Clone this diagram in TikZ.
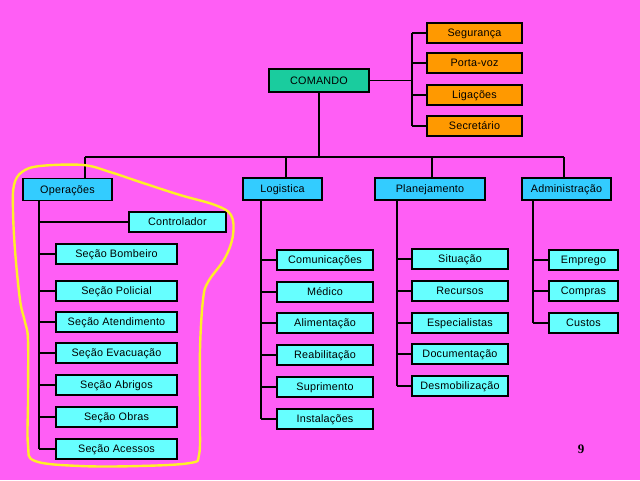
\documentclass[tikz,border=0pt]{standalone}
\usepackage{fontspec}
\setmainfont{Liberation Sans}[LetterSpace=2]
\newfontfamily\numfont{Liberation Serif}
\definecolor{bgpink}{RGB}{255,94,245}
\definecolor{cmdgreen}{RGB}{26,204,158}
\definecolor{headblue}{RGB}{51,204,255}
\definecolor{childcyan}{RGB}{102,255,255}
\definecolor{orangebox}{RGB}{255,153,0}
\definecolor{loopyellow}{RGB}{255,240,40}
\begin{document}
\begin{tikzpicture}[x=1pt,y=-1pt,
  box/.style={draw=black,line width=1.6pt,inner sep=0pt,minimum height=20pt,
    text height=8pt,text depth=1pt,
    font=\fontsize{10.8}{12}\selectfont,text=black},
  cmdbox/.style={box,fill=cmdgreen,minimum width=100pt,minimum height=23pt},
  orgbox/.style={box,fill=orangebox,minimum width=95pt},
  headbox/.style={box,fill=headblue,minimum height=22pt},
  childbox/.style={box,fill=childcyan},
  conn/.style={draw=black,line width=1.6pt}]
\fill[bgpink] (0,0) rectangle (640,480);
\useasboundingbox (0,0) rectangle (640,480);

% command
\node[cmdbox] (cmd) at (319,80.5) {COMANDO};
\node[orgbox] (seg) at (474.5,33) {Segurança};
\node[orgbox] (por) at (474.5,63) {Porta-voz};
\node[orgbox] (lig) at (474.5,95) {Ligações};
\node[orgbox] (sec) at (474.5,126) {Secretário};

% headers
\node[headbox,minimum width=89pt] (ops) at (67.5,189.5) {Operações};
\node[headbox,minimum width=79pt] (log) at (282.5,189) {Logistica};
\node[headbox,minimum width=110pt] (pla) at (430,189) {Planejamento};
\node[headbox,minimum width=89pt] (adm) at (566.5,189) {Administração};

% operations children
\node[childbox,minimum width=97pt] (ctl) at (177.5,222) {Controlador};
\node[childbox,minimum width=121pt] (o1) at (116.5,254) {Seção Bombeiro};
\node[childbox,minimum width=121pt] (o2) at (116.5,291) {Seção Policial};
\node[childbox,minimum width=121pt] (o3) at (116.5,322) {Seção Atendimento};
\node[childbox,minimum width=121pt] (o4) at (116.5,353) {Seção Evacuação};
\node[childbox,minimum width=121pt] (o5) at (116.5,385) {Seção Abrigos};
\node[childbox,minimum width=121pt] (o6) at (116.5,417) {Seção Obras};
\node[childbox,minimum width=121pt] (o7) at (116.5,449) {Seção Acessos};

% logistics children
\node[childbox,minimum width=96pt] (l1) at (325,260) {Comunicações};
\node[childbox,minimum width=96pt] (l2) at (325,292) {Médico};
\node[childbox,minimum width=96pt] (l3) at (325,323) {Alimentação};
\node[childbox,minimum width=96pt] (l4) at (325,355) {Reabilitação};
\node[childbox,minimum width=96pt] (l5) at (325,387) {Suprimento};
\node[childbox,minimum width=96pt] (l6) at (325,419) {Instalações};

% planning children
\node[childbox,minimum width=96pt] (p1) at (460,259) {Situação};
\node[childbox,minimum width=96pt] (p2) at (460,291) {Recursos};
\node[childbox,minimum width=96pt] (p3) at (460,323) {Especialistas};
\node[childbox,minimum width=96pt] (p4) at (460,354) {Documentação};
\node[childbox,minimum width=96pt] (p5) at (460,386) {Desmobilização};

% administration children
\node[childbox,minimum width=69pt] (a1) at (583.5,260) {Emprego};
\node[childbox,minimum width=69pt] (a2) at (583.5,291) {Compras};
\node[childbox,minimum width=69pt] (a3) at (583.5,323) {Custos};

% spine coordinates
\coordinate (rsp) at (412,0);
\coordinate (bar) at (0,157);
\coordinate (tops) at (85,157);
\coordinate (tlog) at (286,157);
\coordinate (tpla) at (432,157);
\coordinate (tadm) at (564,157);
\coordinate (osp) at (39,0);
\coordinate (lsp) at (261,0);
\coordinate (psp) at (397,0);
\coordinate (asp) at (533,0);

% command connectors
\draw[conn] (cmd.east) -- (cmd.east -| rsp);
\draw[conn] (seg.west -| rsp) -- (sec.west -| rsp);
\foreach \n in {seg,por,lig,sec} \draw[conn] (\n.west -| rsp) -- (\n.west);
\draw[conn] (cmd.south) -- (cmd.south |- bar);
\draw[conn] (tops) -- (tadm);
\draw[conn] (tops) -- (tops |- ops.north);
\draw[conn] (tlog) -- (tlog |- log.north);
\draw[conn] (tpla) -- (tpla |- pla.north);
\draw[conn] (tadm) -- (tadm |- adm.north);

% operations
\draw[conn] (ops.south -| osp) -- (o7.west -| osp);
\foreach \n in {ctl,o1,o2,o3,o4,o5,o6,o7} \draw[conn] (\n.west -| osp) -- (\n.west);
% logistics
\draw[conn] (log.south -| lsp) -- (l6.west -| lsp);
\foreach \n in {l1,l2,l3,l4,l5,l6} \draw[conn] (\n.west -| lsp) -- (\n.west);
% planning
\draw[conn] (pla.south -| psp) -- (p5.west -| psp);
\foreach \n in {p1,p2,p3,p4,p5} \draw[conn] (\n.west -| psp) -- (\n.west);
% administration
\draw[conn] (adm.south -| asp) -- (a3.west -| asp);
\foreach \n in {a1,a2,a3} \draw[conn] (\n.west -| asp) -- (\n.west);

% yellow hand-drawn loop
\draw[loopyellow,line width=2.4pt,line join=round] plot[smooth cycle,tension=0.6] coordinates {
(14,185) (22,172) (40,166) (83,165) (110,172) (140,182) (180,195) (215,205)
(231,215) (233,235) (225,258) (208,282) (203,300) (200,350) (200,420) (199,455)
(190,463) (140,466) (80,466) (35,461) (28,445) (28,400) (28,340) (25,322)
(20,300) (15,250) (13,210)};

\node[font=\numfont\bfseries\fontsize{13}{14}\selectfont] (pg) at (581,449) {9};
\end{tikzpicture}
\end{document}
